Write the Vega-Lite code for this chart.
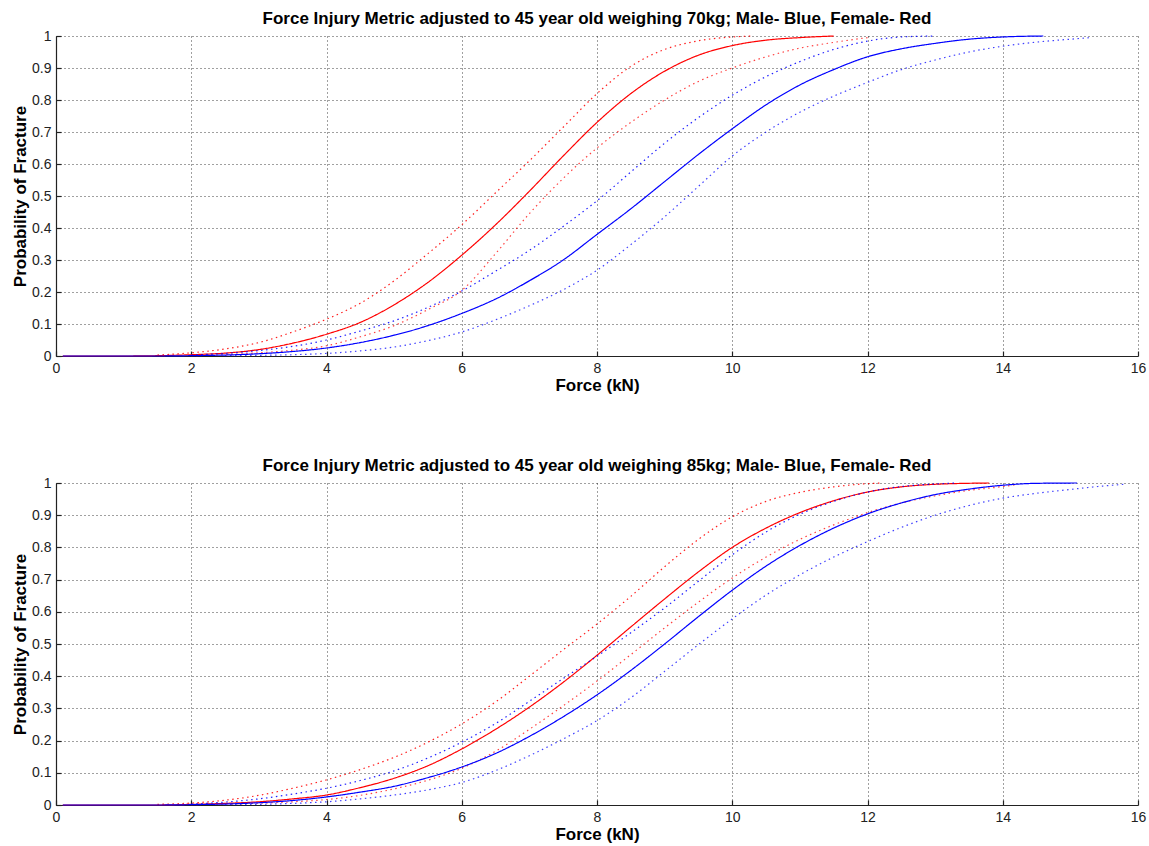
{
"$schema":"https://vega.github.io/schema/vega-lite/v6.json",
"background":"white",
"padding":{"left":11,"top":10,"right":5,"bottom":2},
"spacing":64,
"config":{
 "view":{"stroke":null},
 "font":"Liberation Sans",
 "title":{"font":"Liberation Sans","fontSize":17,"fontWeight":"bold","color":"#000","offset":1},
 "axis":{"grid":true,"gridColor":"#000","gridDash":[1,3],"gridOpacity":0.75,"gridWidth":1,
  "domainColor":"#222","domainWidth":1.2,"tickColor":"#222","tickSize":-5,"tickWidth":1.2,
  "labelFont":"Liberation Sans","labelFontSize":14,"labelColor":"#222","labelPadding":10,"labelFlush":false,"labelOverlap":false,
  "titleFont":"Liberation Sans","titleFontSize":17,"titleFontWeight":"bold","titleColor":"#000","titlePadding":2}
},
"data":{"values":[
{"w":70,"s":"F","b":"m","f":0.1,"p":0},{"w":70,"s":"F","b":"m","f":1,"p":0},{"w":70,"s":"F","b":"m","f":1.5,"p":0.001},{"w":70,"s":"F","b":"m","f":2,"p":0.004},{"w":70,"s":"F","b":"m","f":2.5,"p":0.009},{"w":70,"s":"F","b":"m","f":3,"p":0.02},{"w":70,"s":"F","b":"m","f":3.5,"p":0.04},{"w":70,"s":"F","b":"m","f":4,"p":0.068},{"w":70,"s":"F","b":"m","f":4.5,"p":0.105},{"w":70,"s":"F","b":"m","f":5,"p":0.16},{"w":70,"s":"F","b":"m","f":5.5,"p":0.23},{"w":70,"s":"F","b":"m","f":6,"p":0.315},{"w":70,"s":"F","b":"m","f":6.5,"p":0.41},{"w":70,"s":"F","b":"m","f":7,"p":0.515},{"w":70,"s":"F","b":"m","f":7.5,"p":0.625},{"w":70,"s":"F","b":"m","f":8,"p":0.73},{"w":70,"s":"F","b":"m","f":8.5,"p":0.82},{"w":70,"s":"F","b":"m","f":9,"p":0.89},{"w":70,"s":"F","b":"m","f":9.5,"p":0.94},{"w":70,"s":"F","b":"m","f":10,"p":0.97},{"w":70,"s":"F","b":"m","f":10.5,"p":0.987},{"w":70,"s":"F","b":"m","f":11,"p":0.995},{"w":70,"s":"F","b":"m","f":11.5,"p":1},
{"w":70,"s":"F","b":"u","f":1.5,"p":0.003},{"w":70,"s":"F","b":"u","f":2,"p":0.01},{"w":70,"s":"F","b":"u","f":2.5,"p":0.022},{"w":70,"s":"F","b":"u","f":3,"p":0.042},{"w":70,"s":"F","b":"u","f":3.5,"p":0.075},{"w":70,"s":"F","b":"u","f":4,"p":0.115},{"w":70,"s":"F","b":"u","f":4.5,"p":0.165},{"w":70,"s":"F","b":"u","f":5,"p":0.235},{"w":70,"s":"F","b":"u","f":5.5,"p":0.32},{"w":70,"s":"F","b":"u","f":6,"p":0.41},{"w":70,"s":"F","b":"u","f":6.5,"p":0.51},{"w":70,"s":"F","b":"u","f":7,"p":0.61},{"w":70,"s":"F","b":"u","f":7.5,"p":0.715},{"w":70,"s":"F","b":"u","f":8,"p":0.82},{"w":70,"s":"F","b":"u","f":8.5,"p":0.905},{"w":70,"s":"F","b":"u","f":9,"p":0.958},{"w":70,"s":"F","b":"u","f":9.5,"p":0.985},{"w":70,"s":"F","b":"u","f":10,"p":0.997},{"w":70,"s":"F","b":"u","f":10.3,"p":1},
{"w":70,"s":"F","b":"l","f":2,"p":0.001},{"w":70,"s":"F","b":"l","f":2.5,"p":0.004},{"w":70,"s":"F","b":"l","f":3,"p":0.01},{"w":70,"s":"F","b":"l","f":3.5,"p":0.018},{"w":70,"s":"F","b":"l","f":4,"p":0.032},{"w":70,"s":"F","b":"l","f":4.5,"p":0.06},{"w":70,"s":"F","b":"l","f":5,"p":0.095},{"w":70,"s":"F","b":"l","f":5.5,"p":0.145},{"w":70,"s":"F","b":"l","f":6,"p":0.205},{"w":70,"s":"F","b":"l","f":6.5,"p":0.32},{"w":70,"s":"F","b":"l","f":7,"p":0.445},{"w":70,"s":"F","b":"l","f":7.5,"p":0.555},{"w":70,"s":"F","b":"l","f":8,"p":0.65},{"w":70,"s":"F","b":"l","f":8.5,"p":0.73},{"w":70,"s":"F","b":"l","f":9,"p":0.8},{"w":70,"s":"F","b":"l","f":9.5,"p":0.858},{"w":70,"s":"F","b":"l","f":10,"p":0.9},{"w":70,"s":"F","b":"l","f":10.5,"p":0.935},{"w":70,"s":"F","b":"l","f":11,"p":0.962},{"w":70,"s":"F","b":"l","f":11.5,"p":0.98},{"w":70,"s":"F","b":"l","f":12,"p":0.995},
{"w":70,"s":"M","b":"m","f":0.1,"p":0},{"w":70,"s":"M","b":"m","f":1.5,"p":0},{"w":70,"s":"M","b":"m","f":2,"p":0.001},{"w":70,"s":"M","b":"m","f":2.5,"p":0.003},{"w":70,"s":"M","b":"m","f":3,"p":0.007},{"w":70,"s":"M","b":"m","f":3.5,"p":0.014},{"w":70,"s":"M","b":"m","f":4,"p":0.025},{"w":70,"s":"M","b":"m","f":4.5,"p":0.042},{"w":70,"s":"M","b":"m","f":5,"p":0.065},{"w":70,"s":"M","b":"m","f":5.5,"p":0.095},{"w":70,"s":"M","b":"m","f":6,"p":0.133},{"w":70,"s":"M","b":"m","f":6.5,"p":0.178},{"w":70,"s":"M","b":"m","f":7,"p":0.235},{"w":70,"s":"M","b":"m","f":7.5,"p":0.3},{"w":70,"s":"M","b":"m","f":8,"p":0.38},{"w":70,"s":"M","b":"m","f":8.5,"p":0.46},{"w":70,"s":"M","b":"m","f":9,"p":0.545},{"w":70,"s":"M","b":"m","f":9.5,"p":0.63},{"w":70,"s":"M","b":"m","f":10,"p":0.71},{"w":70,"s":"M","b":"m","f":10.5,"p":0.785},{"w":70,"s":"M","b":"m","f":11,"p":0.847},{"w":70,"s":"M","b":"m","f":11.5,"p":0.895},{"w":70,"s":"M","b":"m","f":12,"p":0.935},{"w":70,"s":"M","b":"m","f":12.5,"p":0.96},{"w":70,"s":"M","b":"m","f":13,"p":0.977},{"w":70,"s":"M","b":"m","f":13.5,"p":0.99},{"w":70,"s":"M","b":"m","f":14,"p":0.997},{"w":70,"s":"M","b":"m","f":14.6,"p":1},
{"w":70,"s":"M","b":"u","f":2,"p":0.003},{"w":70,"s":"M","b":"u","f":2.5,"p":0.008},{"w":70,"s":"M","b":"u","f":3,"p":0.017},{"w":70,"s":"M","b":"u","f":3.5,"p":0.03},{"w":70,"s":"M","b":"u","f":4,"p":0.05},{"w":70,"s":"M","b":"u","f":4.5,"p":0.078},{"w":70,"s":"M","b":"u","f":5,"p":0.11},{"w":70,"s":"M","b":"u","f":5.5,"p":0.152},{"w":70,"s":"M","b":"u","f":6,"p":0.203},{"w":70,"s":"M","b":"u","f":6.5,"p":0.265},{"w":70,"s":"M","b":"u","f":7,"p":0.33},{"w":70,"s":"M","b":"u","f":7.5,"p":0.405},{"w":70,"s":"M","b":"u","f":8,"p":0.485},{"w":70,"s":"M","b":"u","f":8.5,"p":0.575},{"w":70,"s":"M","b":"u","f":9,"p":0.665},{"w":70,"s":"M","b":"u","f":9.5,"p":0.745},{"w":70,"s":"M","b":"u","f":10,"p":0.815},{"w":70,"s":"M","b":"u","f":10.5,"p":0.873},{"w":70,"s":"M","b":"u","f":11,"p":0.92},{"w":70,"s":"M","b":"u","f":11.5,"p":0.958},{"w":70,"s":"M","b":"u","f":12,"p":0.984},{"w":70,"s":"M","b":"u","f":12.5,"p":0.997},{"w":70,"s":"M","b":"u","f":13,"p":1},
{"w":70,"s":"M","b":"l","f":2.5,"p":0.001},{"w":70,"s":"M","b":"l","f":3,"p":0.002},{"w":70,"s":"M","b":"l","f":3.5,"p":0.004},{"w":70,"s":"M","b":"l","f":4,"p":0.008},{"w":70,"s":"M","b":"l","f":4.5,"p":0.016},{"w":70,"s":"M","b":"l","f":5,"p":0.028},{"w":70,"s":"M","b":"l","f":5.5,"p":0.048},{"w":70,"s":"M","b":"l","f":6,"p":0.075},{"w":70,"s":"M","b":"l","f":6.5,"p":0.113},{"w":70,"s":"M","b":"l","f":7,"p":0.157},{"w":70,"s":"M","b":"l","f":7.5,"p":0.207},{"w":70,"s":"M","b":"l","f":8,"p":0.268},{"w":70,"s":"M","b":"l","f":8.5,"p":0.348},{"w":70,"s":"M","b":"l","f":9,"p":0.435},{"w":70,"s":"M","b":"l","f":9.5,"p":0.53},{"w":70,"s":"M","b":"l","f":10,"p":0.625},{"w":70,"s":"M","b":"l","f":10.5,"p":0.7},{"w":70,"s":"M","b":"l","f":11,"p":0.762},{"w":70,"s":"M","b":"l","f":11.5,"p":0.812},{"w":70,"s":"M","b":"l","f":12,"p":0.855},{"w":70,"s":"M","b":"l","f":12.5,"p":0.895},{"w":70,"s":"M","b":"l","f":13,"p":0.925},{"w":70,"s":"M","b":"l","f":13.5,"p":0.95},{"w":70,"s":"M","b":"l","f":14,"p":0.968},{"w":70,"s":"M","b":"l","f":14.5,"p":0.981},{"w":70,"s":"M","b":"l","f":15,"p":0.99},{"w":70,"s":"M","b":"l","f":15.3,"p":0.995},
{"w":85,"s":"F","b":"m","f":0.1,"p":0},{"w":85,"s":"F","b":"m","f":1.5,"p":0},{"w":85,"s":"F","b":"m","f":2,"p":0.002},{"w":85,"s":"F","b":"m","f":2.5,"p":0.005},{"w":85,"s":"F","b":"m","f":3,"p":0.01},{"w":85,"s":"F","b":"m","f":3.5,"p":0.019},{"w":85,"s":"F","b":"m","f":4,"p":0.031},{"w":85,"s":"F","b":"m","f":4.5,"p":0.054},{"w":85,"s":"F","b":"m","f":5,"p":0.083},{"w":85,"s":"F","b":"m","f":5.5,"p":0.122},{"w":85,"s":"F","b":"m","f":6,"p":0.174},{"w":85,"s":"F","b":"m","f":6.5,"p":0.235},{"w":85,"s":"F","b":"m","f":7,"p":0.304},{"w":85,"s":"F","b":"m","f":7.5,"p":0.381},{"w":85,"s":"F","b":"m","f":8,"p":0.465},{"w":85,"s":"F","b":"m","f":8.5,"p":0.553},{"w":85,"s":"F","b":"m","f":9,"p":0.64},{"w":85,"s":"F","b":"m","f":9.5,"p":0.724},{"w":85,"s":"F","b":"m","f":10,"p":0.8},{"w":85,"s":"F","b":"m","f":10.5,"p":0.86},{"w":85,"s":"F","b":"m","f":11,"p":0.908},{"w":85,"s":"F","b":"m","f":11.5,"p":0.945},{"w":85,"s":"F","b":"m","f":12,"p":0.972},{"w":85,"s":"F","b":"m","f":12.5,"p":0.988},{"w":85,"s":"F","b":"m","f":13,"p":0.996},{"w":85,"s":"F","b":"m","f":13.8,"p":1},
{"w":85,"s":"F","b":"u","f":1.5,"p":0.002},{"w":85,"s":"F","b":"u","f":2,"p":0.006},{"w":85,"s":"F","b":"u","f":2.5,"p":0.015},{"w":85,"s":"F","b":"u","f":3,"p":0.03},{"w":85,"s":"F","b":"u","f":3.5,"p":0.052},{"w":85,"s":"F","b":"u","f":4,"p":0.078},{"w":85,"s":"F","b":"u","f":4.5,"p":0.11},{"w":85,"s":"F","b":"u","f":5,"p":0.148},{"w":85,"s":"F","b":"u","f":5.5,"p":0.195},{"w":85,"s":"F","b":"u","f":6,"p":0.252},{"w":85,"s":"F","b":"u","f":6.5,"p":0.32},{"w":85,"s":"F","b":"u","f":7,"p":0.4},{"w":85,"s":"F","b":"u","f":7.5,"p":0.482},{"w":85,"s":"F","b":"u","f":8,"p":0.562},{"w":85,"s":"F","b":"u","f":8.5,"p":0.648},{"w":85,"s":"F","b":"u","f":9,"p":0.74},{"w":85,"s":"F","b":"u","f":9.5,"p":0.825},{"w":85,"s":"F","b":"u","f":10,"p":0.895},{"w":85,"s":"F","b":"u","f":10.5,"p":0.943},{"w":85,"s":"F","b":"u","f":11,"p":0.971},{"w":85,"s":"F","b":"u","f":11.5,"p":0.988},{"w":85,"s":"F","b":"u","f":12,"p":0.998},{"w":85,"s":"F","b":"u","f":12.2,"p":1},
{"w":85,"s":"F","b":"l","f":2,"p":0.001},{"w":85,"s":"F","b":"l","f":2.5,"p":0.003},{"w":85,"s":"F","b":"l","f":3,"p":0.006},{"w":85,"s":"F","b":"l","f":3.5,"p":0.01},{"w":85,"s":"F","b":"l","f":4,"p":0.017},{"w":85,"s":"F","b":"l","f":4.5,"p":0.03},{"w":85,"s":"F","b":"l","f":5,"p":0.05},{"w":85,"s":"F","b":"l","f":5.5,"p":0.077},{"w":85,"s":"F","b":"l","f":6,"p":0.114},{"w":85,"s":"F","b":"l","f":6.5,"p":0.167},{"w":85,"s":"F","b":"l","f":7,"p":0.235},{"w":85,"s":"F","b":"l","f":7.5,"p":0.308},{"w":85,"s":"F","b":"l","f":8,"p":0.385},{"w":85,"s":"F","b":"l","f":8.5,"p":0.467},{"w":85,"s":"F","b":"l","f":9,"p":0.55},{"w":85,"s":"F","b":"l","f":9.5,"p":0.63},{"w":85,"s":"F","b":"l","f":10,"p":0.705},{"w":85,"s":"F","b":"l","f":10.5,"p":0.77},{"w":85,"s":"F","b":"l","f":11,"p":0.825},{"w":85,"s":"F","b":"l","f":11.5,"p":0.87},{"w":85,"s":"F","b":"l","f":12,"p":0.908},{"w":85,"s":"F","b":"l","f":12.5,"p":0.938},{"w":85,"s":"F","b":"l","f":13,"p":0.96},{"w":85,"s":"F","b":"l","f":13.5,"p":0.977},{"w":85,"s":"F","b":"l","f":14,"p":0.989},{"w":85,"s":"F","b":"l","f":14.2,"p":0.995},
{"w":85,"s":"M","b":"m","f":0.1,"p":0},{"w":85,"s":"M","b":"m","f":1.5,"p":0},{"w":85,"s":"M","b":"m","f":2,"p":0.001},{"w":85,"s":"M","b":"m","f":2.5,"p":0.003},{"w":85,"s":"M","b":"m","f":3,"p":0.007},{"w":85,"s":"M","b":"m","f":3.5,"p":0.014},{"w":85,"s":"M","b":"m","f":4,"p":0.025},{"w":85,"s":"M","b":"m","f":4.5,"p":0.04},{"w":85,"s":"M","b":"m","f":5,"p":0.058},{"w":85,"s":"M","b":"m","f":5.5,"p":0.085},{"w":85,"s":"M","b":"m","f":6,"p":0.118},{"w":85,"s":"M","b":"m","f":6.5,"p":0.16},{"w":85,"s":"M","b":"m","f":7,"p":0.213},{"w":85,"s":"M","b":"m","f":7.5,"p":0.274},{"w":85,"s":"M","b":"m","f":8,"p":0.342},{"w":85,"s":"M","b":"m","f":8.5,"p":0.418},{"w":85,"s":"M","b":"m","f":9,"p":0.5},{"w":85,"s":"M","b":"m","f":9.5,"p":0.585},{"w":85,"s":"M","b":"m","f":10,"p":0.667},{"w":85,"s":"M","b":"m","f":10.5,"p":0.742},{"w":85,"s":"M","b":"m","f":11,"p":0.806},{"w":85,"s":"M","b":"m","f":11.5,"p":0.86},{"w":85,"s":"M","b":"m","f":12,"p":0.904},{"w":85,"s":"M","b":"m","f":12.5,"p":0.938},{"w":85,"s":"M","b":"m","f":13,"p":0.964},{"w":85,"s":"M","b":"m","f":13.5,"p":0.981},{"w":85,"s":"M","b":"m","f":14,"p":0.993},{"w":85,"s":"M","b":"m","f":14.5,"p":0.999},{"w":85,"s":"M","b":"m","f":15.1,"p":1},
{"w":85,"s":"M","b":"u","f":2,"p":0.003},{"w":85,"s":"M","b":"u","f":2.5,"p":0.009},{"w":85,"s":"M","b":"u","f":3,"p":0.019},{"w":85,"s":"M","b":"u","f":3.5,"p":0.034},{"w":85,"s":"M","b":"u","f":4,"p":0.052},{"w":85,"s":"M","b":"u","f":4.5,"p":0.076},{"w":85,"s":"M","b":"u","f":5,"p":0.106},{"w":85,"s":"M","b":"u","f":5.5,"p":0.146},{"w":85,"s":"M","b":"u","f":6,"p":0.195},{"w":85,"s":"M","b":"u","f":6.5,"p":0.253},{"w":85,"s":"M","b":"u","f":7,"p":0.322},{"w":85,"s":"M","b":"u","f":7.5,"p":0.393},{"w":85,"s":"M","b":"u","f":8,"p":0.462},{"w":85,"s":"M","b":"u","f":8.5,"p":0.535},{"w":85,"s":"M","b":"u","f":9,"p":0.612},{"w":85,"s":"M","b":"u","f":9.5,"p":0.695},{"w":85,"s":"M","b":"u","f":10,"p":0.777},{"w":85,"s":"M","b":"u","f":10.5,"p":0.848},{"w":85,"s":"M","b":"u","f":11,"p":0.903},{"w":85,"s":"M","b":"u","f":11.5,"p":0.943},{"w":85,"s":"M","b":"u","f":12,"p":0.972},{"w":85,"s":"M","b":"u","f":12.5,"p":0.989},{"w":85,"s":"M","b":"u","f":13,"p":0.997},{"w":85,"s":"M","b":"u","f":13.3,"p":1},
{"w":85,"s":"M","b":"l","f":2.5,"p":0.001},{"w":85,"s":"M","b":"l","f":3,"p":0.002},{"w":85,"s":"M","b":"l","f":3.5,"p":0.005},{"w":85,"s":"M","b":"l","f":4,"p":0.01},{"w":85,"s":"M","b":"l","f":4.5,"p":0.019},{"w":85,"s":"M","b":"l","f":5,"p":0.031},{"w":85,"s":"M","b":"l","f":5.5,"p":0.047},{"w":85,"s":"M","b":"l","f":6,"p":0.07},{"w":85,"s":"M","b":"l","f":6.5,"p":0.107},{"w":85,"s":"M","b":"l","f":7,"p":0.153},{"w":85,"s":"M","b":"l","f":7.5,"p":0.205},{"w":85,"s":"M","b":"l","f":8,"p":0.262},{"w":85,"s":"M","b":"l","f":8.5,"p":0.333},{"w":85,"s":"M","b":"l","f":9,"p":0.415},{"w":85,"s":"M","b":"l","f":9.5,"p":0.498},{"w":85,"s":"M","b":"l","f":10,"p":0.578},{"w":85,"s":"M","b":"l","f":10.5,"p":0.652},{"w":85,"s":"M","b":"l","f":11,"p":0.715},{"w":85,"s":"M","b":"l","f":11.5,"p":0.77},{"w":85,"s":"M","b":"l","f":12,"p":0.818},{"w":85,"s":"M","b":"l","f":12.5,"p":0.862},{"w":85,"s":"M","b":"l","f":13,"p":0.9},{"w":85,"s":"M","b":"l","f":13.5,"p":0.93},{"w":85,"s":"M","b":"l","f":14,"p":0.953},{"w":85,"s":"M","b":"l","f":14.5,"p":0.968},{"w":85,"s":"M","b":"l","f":15,"p":0.98},{"w":85,"s":"M","b":"l","f":15.5,"p":0.991},{"w":85,"s":"M","b":"l","f":15.8,"p":0.996}
]},
"vconcat":[
{
 "width":1082,"height":320,
 "title":"Force Injury Metric adjusted to 45 year old weighing 70kg; Male- Blue, Female- Red",
 "transform":[{"filter":"datum.w==70"}],
 "mark":{"type":"line","interpolate":"monotone","strokeWidth":1.2},
 "encoding":{
  "x":{"field":"f","type":"quantitative","scale":{"domain":[0,16],"nice":false},"axis":{"title":"Force (kN)","values":[0,2,4,6,8,10,12,14,16]}},
  "y":{"field":"p","type":"quantitative","scale":{"domain":[0,1],"nice":false},"axis":{"title":"Probability of Fracture","values":[0,0.1,0.2,0.3,0.4,0.5,0.6,0.7,0.8,0.9,1],"format":"~g"}},
  "color":{"field":"s","type":"nominal","scale":{"domain":["M","F"],"range":["#0000ff","#ff0000"]},"legend":null},
  "strokeDash":{"field":"b","type":"nominal","scale":{"domain":["m","u","l"],"range":[[1,0],[1.5,3.5],[1.5,3.5]]},"legend":null},
  "strokeOpacity":{"field":"b","type":"nominal","scale":{"domain":["m","u","l"],"range":[1,0.75,0.75]},"legend":null}
 }
},
{
 "width":1082,"height":322,
 "title":"Force Injury Metric adjusted to 45 year old weighing 85kg; Male- Blue, Female- Red",
 "transform":[{"filter":"datum.w==85"}],
 "mark":{"type":"line","interpolate":"monotone","strokeWidth":1.2},
 "encoding":{
  "x":{"field":"f","type":"quantitative","scale":{"domain":[0,16],"nice":false},"axis":{"title":"Force (kN)","values":[0,2,4,6,8,10,12,14,16]}},
  "y":{"field":"p","type":"quantitative","scale":{"domain":[0,1],"nice":false},"axis":{"title":"Probability of Fracture","values":[0,0.1,0.2,0.3,0.4,0.5,0.6,0.7,0.8,0.9,1],"format":"~g"}},
  "color":{"field":"s","type":"nominal","scale":{"domain":["M","F"],"range":["#0000ff","#ff0000"]},"legend":null},
  "strokeDash":{"field":"b","type":"nominal","scale":{"domain":["m","u","l"],"range":[[1,0],[1.5,3.5],[1.5,3.5]]},"legend":null},
  "strokeOpacity":{"field":"b","type":"nominal","scale":{"domain":["m","u","l"],"range":[1,0.75,0.75]},"legend":null}
 }
}
]
}
